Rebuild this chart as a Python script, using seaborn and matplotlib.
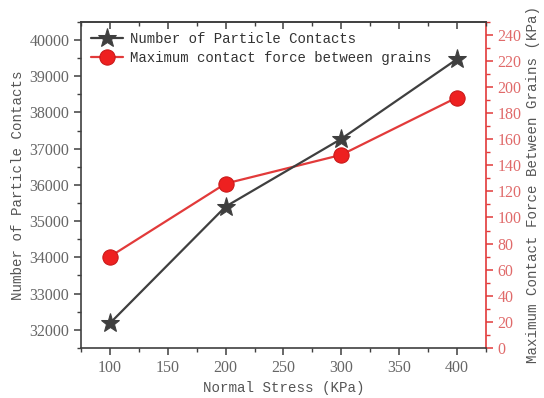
import matplotlib
matplotlib.use("Agg")
import matplotlib.pyplot as plt
import seaborn as sns
import pandas as pd
from matplotlib.ticker import MultipleLocator

stress = [100, 200, 300, 400]
contacts = [32180, 35400, 37270, 39470]
max_force = [70, 126, 148, 192]

sns.set_theme(style="white")
plt.rcParams['font.family'] = ['Liberation Serif', 'DejaVu Serif']
mono = 'Liberation Mono'

dark = '#3f3f3f'
red = '#e23a3a'
tickgray = '#666666'
redtick = '#e06a6a'

fig = plt.figure(figsize=(5.44, 3.98), dpi=100)
ax = fig.add_axes([0.149, 0.126, 0.744, 0.819])
ax2 = ax.twinx()

df = pd.DataFrame({'stress': stress, 'contacts': contacts, 'force': max_force})

sns.lineplot(data=df, x='stress', y='contacts', ax=ax, color=dark, marker='*',
             markersize=14, markeredgecolor=dark, linewidth=1.6,
             label='Number of Particle Contacts', legend=False)
sns.lineplot(data=df, x='stress', y='force', ax=ax2, color=red, marker='o',
             markersize=11, markeredgecolor='#c81818', markerfacecolor='#ee2020',
             linewidth=1.6, label='Maximum contact force between grains', legend=False)

ax.set_xlim(75, 425)
ax.set_ylim(31500, 40500)
ax2.set_ylim(0, 250)

ax.xaxis.set_major_locator(MultipleLocator(50))
ax.xaxis.set_minor_locator(MultipleLocator(25))
ax.yaxis.set_major_locator(MultipleLocator(1000))
ax.yaxis.set_minor_locator(MultipleLocator(500))
ax2.yaxis.set_major_locator(MultipleLocator(20))
ax2.yaxis.set_minor_locator(MultipleLocator(10))

for s in ['left', 'bottom', 'top']:
    ax.spines[s].set_color(dark)
    ax.spines[s].set_linewidth(1.2)
ax.spines['right'].set_visible(False)
for s in ['left', 'bottom', 'top']:
    ax2.spines[s].set_visible(False)
ax2.spines['right'].set_color(red)
ax2.spines['right'].set_linewidth(1.2)

ax.tick_params(axis='x', which='both', bottom=True, top=False, direction='out',
               colors=dark, labelcolor=tickgray, labelsize=11.5)
ax.tick_params(axis='x', which='major', length=5, width=1.1)
ax.tick_params(axis='x', which='minor', length=3, width=1)
ax.tick_params(axis='y', which='both', left=True, direction='out',
               colors=dark, labelcolor=tickgray, labelsize=11.5)
ax.tick_params(axis='y', which='major', length=5, width=1.1)
ax.tick_params(axis='y', which='minor', length=3, width=1)
ax2.tick_params(axis='y', which='both', right=True, direction='out',
                colors=red, labelcolor=redtick, labelsize=11.5)
ax2.tick_params(axis='y', which='major', length=5, width=1.1)
ax2.tick_params(axis='y', which='minor', length=3, width=1)

top = ax.secondary_xaxis('top')
top.xaxis.set_major_locator(MultipleLocator(50))
top.xaxis.set_minor_locator(MultipleLocator(25))
top.tick_params(which='both', direction='in', colors=dark, labeltop=False)
top.tick_params(which='major', length=5, width=1.1)
top.tick_params(which='minor', length=3, width=1)
top.spines['top'].set_color(dark)
top.spines['top'].set_linewidth(1.2)

ax.set_xlabel('Normal Stress (KPa)', fontfamily=mono, fontsize=10.2, color='#555555', labelpad=4)
ax.set_ylabel('Number of Particle Contacts', fontfamily=mono, fontsize=10.2, color='#555555', labelpad=3)
ax2.set_ylabel('Maximum Contact Force Between Grains (KPa)', fontfamily=mono, fontsize=10.2,
               color='#555555', labelpad=3)

h1, l1 = ax.get_legend_handles_labels()
h2, l2 = ax2.get_legend_handles_labels()
leg = ax.legend(h1 + h2, l1 + l2, loc='upper left', frameon=False,
                prop={'family': mono, 'size': 10.1}, handlelength=2.3,
                handletextpad=0.5, borderaxespad=0.3, labelspacing=0.35)
for t in leg.get_texts():
    t.set_color('#333333')
ax.set_zorder(ax2.get_zorder() + 1)
ax.patch.set_visible(False)

fig.savefig('out.png', dpi=100)
